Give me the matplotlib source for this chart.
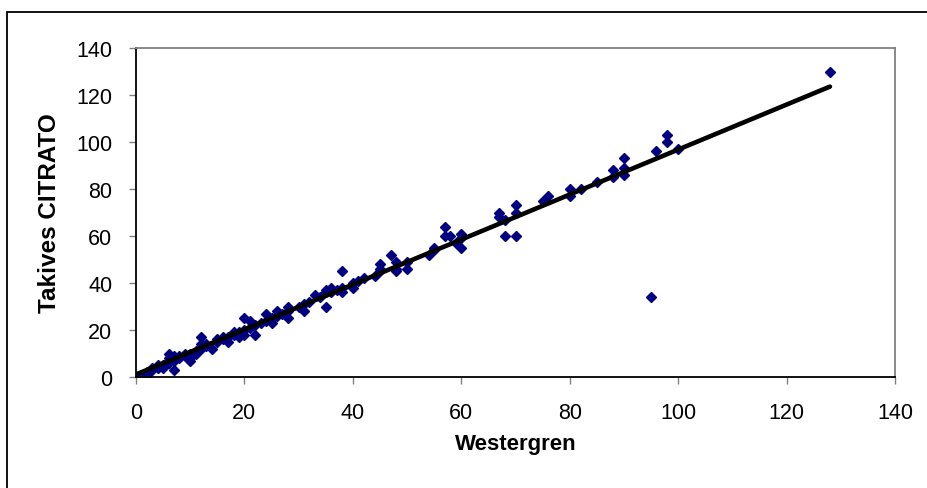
import numpy as np
import matplotlib.pyplot as plt
from matplotlib.patches import Rectangle

# Westergren vs Takives CITRATO readings
westergren = [0, 1, 2, 2, 3, 3, 4, 4, 5, 5, 6, 6, 6, 7, 7, 7, 8, 8, 9, 9,
              10, 10, 10, 11, 11, 12, 12, 12, 13, 13, 14, 15, 15, 16, 16, 17,
              17, 18, 18, 19, 19, 20, 20, 20, 21, 21, 22, 22, 23, 24, 24, 25,
              25, 26, 26, 27, 28, 28, 28, 30, 31, 31, 32, 33, 34, 35, 35, 35,
              36, 36, 37, 38, 38, 38, 40, 40, 41, 42, 44, 45, 45, 45, 47, 48,
              48, 48, 50, 50, 54, 55, 55, 57, 57, 58, 59, 60, 60, 60, 67, 67,
              68, 68, 70, 70, 70, 75, 76, 80, 80, 82, 85, 88, 88, 90, 90, 90,
              95, 96, 98, 98, 100, 128]
citrato = [0, 1, 2, 1, 3, 4, 4, 5, 5, 4, 6, 10, 8, 7, 3, 9, 8, 9, 9, 10,
           10, 8, 7, 11, 10, 12, 17, 14, 13, 14, 12, 15, 16, 16, 17, 17,
           15, 18, 19, 19, 17, 20, 18, 25, 21, 24, 22, 18, 23, 24, 27, 25,
           23, 26, 28, 27, 28, 25, 30, 30, 31, 28, 32, 35, 34, 30, 36, 37,
           36, 38, 37, 38, 36, 45, 40, 38, 41, 42, 43, 45, 48, 46, 52, 49,
           46, 45, 49, 46, 52, 55, 54, 60, 64, 60, 57, 59, 61, 55, 70, 68,
           67, 60, 70, 73, 60, 75, 77, 80, 77, 80, 83, 85, 88, 93, 89, 86,
           34, 96, 100, 103, 97, 130]

x_ticks = [0, 20, 40, 60, 80, 100, 120, 140]
y_ticks = [0, 20, 40, 60, 80, 100, 120, 140]

plt.rcParams['font.family'] = ['Liberation Sans', 'DejaVu Sans']

fig = plt.figure(figsize=(9.27, 4.89), dpi=100)
ax = fig.add_axes([136 / 927, 1 - 378 / 489, (895 - 136) / 927, (378 - 49) / 489])

# outer chart frame (right/bottom edges run off the image)
fig.patches.append(Rectangle((7 / 927, -0.1), 1.0, (489 - 13) / 489 + 0.1,
                             transform=fig.transFigure, fill=False,
                             edgecolor='black', linewidth=1.3))

x = np.array(westergren, dtype=float)
y = np.array(citrato, dtype=float)
ax.plot(x, y, linestyle='none', marker='D', markersize=5.5,
        color='#000080', zorder=2)

# linear trend line
slope, intercept = np.polyfit(x, y, 1)
xs = np.array([x.min(), x.max()])
ax.plot(xs, slope * xs + intercept, color='black', linewidth=3.3,
        solid_capstyle='round', zorder=3)

ax.set_xlim(0, 140)
ax.set_ylim(0, 140)
ax.set_xticks(x_ticks)
ax.set_yticks(y_ticks)
ax.tick_params(labelsize=15.5, length=5, width=1, color='#808080',
               direction='out')
ax.tick_params(axis='x', pad=13)
ax.tick_params(axis='y', pad=12)
for side in ['top', 'right']:
    ax.spines[side].set_color('#808080')
    ax.spines[side].set_linewidth(1.3)
for side in ['left', 'bottom']:
    ax.spines[side].set_color('black')
    ax.spines[side].set_linewidth(1.3)

ax.set_xlabel('Westergren', fontsize=16, fontweight='bold', labelpad=7)
ax.set_ylabel('Takives CITRATO', fontsize=17.5, fontweight='bold', labelpad=11)

fig.savefig('out.png', dpi=100)
